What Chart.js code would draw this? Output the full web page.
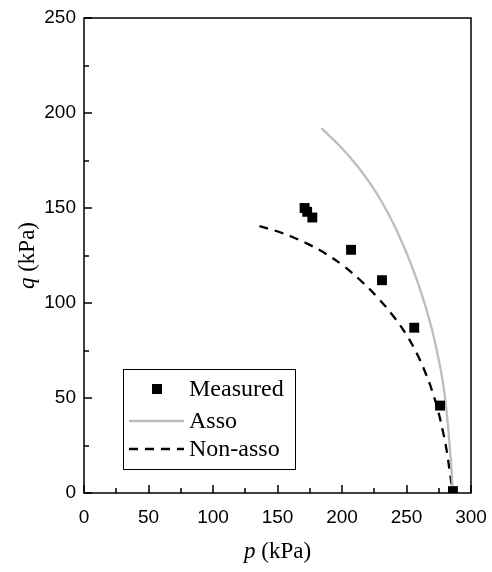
<!DOCTYPE html>
<html>
<head>
<meta charset="utf-8">
<script src="https://cdn.jsdelivr.net/npm/chart.js@4"></script>
<style>
  html, body { margin: 0; padding: 0; background: #fff; }
  #wrap { width: 492px; height: 572px; }
</style>
</head>
<body>
<div id="wrap"><canvas id="pqChart" width="492" height="572"></canvas></div>
<script>
// measured points (p, q in kPa)
const measuredP = [171, 173, 177, 207, 231, 256, 276, 286];
const measuredQ = [150, 148, 145, 128, 112, 87, 46, 1];

// associated flow curve
const assoP = [184, 199.2, 212, 222.7, 231.9, 239.7, 246.5, 252.6, 258.1, 263, 267.4, 271.2, 274.4, 277.3, 279.5, 281.2, 282.6, 283.8, 284.9, 286];
const assoQ = [192, 182, 172, 162, 152, 142, 132, 122, 112, 102, 92, 82, 72, 62, 52, 42, 32, 22, 12, 0];

// non-associated flow curve
const nonAssoP = [136, 149, 162, 175, 188, 201, 214, 227, 240, 250.3, 258.4, 264.9, 270.3, 274.6, 278.1, 281, 283.2, 286];
const nonAssoQ = [140.5, 137.9, 134.6, 130.6, 125.7, 119.6, 112.1, 103.3, 92.9, 82.9, 72.9, 62.9, 52.9, 42.9, 32.9, 22.9, 12.9, 0];

// axes
const pTicks = [0, 50, 100, 150, 200, 250, 300];
const qTicks = [0, 50, 100, 150, 200, 250];
const minorStep = 25;

const toXY = (xs, ys) => xs.map((x, i) => ({ x: x, y: ys[i] }));

const frame = {
  id: 'frame',
  afterDraw(chart) {
    const { ctx, chartArea: a, scales: { x, y } } = chart;
    ctx.save();
    ctx.strokeStyle = '#000';
    ctx.lineWidth = 1.5;
    ctx.strokeRect(a.left, a.top, a.right - a.left, a.bottom - a.top);

    // inward ticks, major every 50 and minor every 25
    ctx.beginPath();
    for (let v = x.min; v <= x.max; v += minorStep) {
      const px = Math.round(x.getPixelForValue(v));
      const len = pTicks.includes(v) ? 8 : 5;
      ctx.moveTo(px, a.bottom);
      ctx.lineTo(px, a.bottom - len);
    }
    for (let v = y.min; v <= y.max; v += minorStep) {
      const py = Math.round(y.getPixelForValue(v));
      const len = qTicks.includes(v) ? 8 : 5;
      ctx.moveTo(a.left, py);
      ctx.lineTo(a.left + len, py);
    }
    ctx.stroke();

    // axis titles with italic symbol
    ctx.fillStyle = '#000';
    ctx.textBaseline = 'middle';
    const drawTitle = (sym, rest, cx, cy, rot) => {
      ctx.save();
      ctx.translate(cx, cy);
      ctx.rotate(rot);
      ctx.font = 'italic 23px "Liberation Serif", serif';
      const w1 = ctx.measureText(sym).width;
      ctx.font = '23px "Liberation Serif", serif';
      const w2 = ctx.measureText(rest).width;
      let sx = -(w1 + w2) / 2;
      ctx.textAlign = 'left';
      ctx.font = 'italic 23px "Liberation Serif", serif';
      ctx.fillText(sym, sx, 0);
      ctx.font = '23px "Liberation Serif", serif';
      ctx.fillText(rest, sx + w1, 0);
      ctx.restore();
    };
    drawTitle('p', ' (kPa)', (a.left + a.right) / 2, 552, 0);
    drawTitle('q', ' (kPa)', 28, (a.top + a.bottom) / 2, -Math.PI / 2);

    // legend box
    const ds = chart.data.datasets;
    const bx = 123, by = 369, bw = 172, bh = 100;
    ctx.lineWidth = 1;
    ctx.strokeStyle = '#000';
    ctx.strokeRect(bx + 0.5, by + 0.5, bw, bh);
    const rows = [389, 421, 449];
    ctx.font = '24px "Liberation Serif", serif';
    ctx.textAlign = 'left';
    ds.forEach((d, i) => {
      const ry = rows[i];
      if (d.showLine === false) {
        ctx.fillStyle = d.pointBackgroundColor;
        ctx.fillRect(157 - 5, ry - 5, 10, 10);
      } else {
        ctx.save();
        ctx.strokeStyle = d.borderColor;
        ctx.lineWidth = d.borderWidth;
        ctx.setLineDash(d.borderDash || []);
        ctx.beginPath();
        ctx.moveTo(129, ry);
        ctx.lineTo(184, ry);
        ctx.stroke();
        ctx.restore();
      }
      ctx.fillStyle = '#000';
      ctx.fillText(d.label, 189, ry + 1);
    });
    ctx.restore();
  }
};

new Chart(document.getElementById('pqChart'), {
  type: 'scatter',
  data: {
    datasets: [
      {
        label: 'Measured',
        data: toXY(measuredP, measuredQ),
        showLine: false,
        pointStyle: 'rect',
        pointRadius: 7,
        pointBackgroundColor: '#000',
        pointBorderColor: '#000',
        pointBorderWidth: 0
      },
      {
        label: 'Asso',
        data: toXY(assoP, assoQ),
        showLine: true,
        borderColor: '#bdbdbd',
        borderWidth: 2.3,
        pointRadius: 0,
        tension: 0.4
      },
      {
        label: 'Non-asso',
        data: toXY(nonAssoP, nonAssoQ),
        showLine: true,
        borderColor: '#000',
        borderWidth: 2.3,
        borderDash: [9, 7],
        pointRadius: 0,
        tension: 0.4
      }
    ]
  },
  options: {
    responsive: false,
    animation: false,
    devicePixelRatio: 1,
    layout: { padding: { left: 0, right: 21, top: 18, bottom: 0 } },
    plugins: { legend: { display: false }, tooltip: { enabled: false } },
    scales: {
      x: {
        type: 'linear',
        min: 0, max: 300,
        afterFit(s) { s.height = 79; s.paddingLeft = 0; s.paddingRight = 0; },
        afterBuildTicks(s) { s.ticks = pTicks.map(v => ({ value: v })); },
        grid: { display: false, drawTicks: false },
        border: { display: false },
        ticks: {
          padding: 13,
          color: '#000',
          font: { family: '"Liberation Sans", Arial, sans-serif', size: 19 }
        }
      },
      y: {
        type: 'linear',
        min: 0, max: 250,
        afterFit(s) { s.width = 84; s.paddingTop = 0; s.paddingBottom = 0; },
        afterBuildTicks(s) { s.ticks = qTicks.map(v => ({ value: v })); },
        grid: { display: false, drawTicks: false },
        border: { display: false },
        ticks: {
          padding: 8,
          color: '#000',
          font: { family: '"Liberation Sans", Arial, sans-serif', size: 19 }
        }
      }
    }
  },
  plugins: [frame]
});
</script>
</body>
</html>
